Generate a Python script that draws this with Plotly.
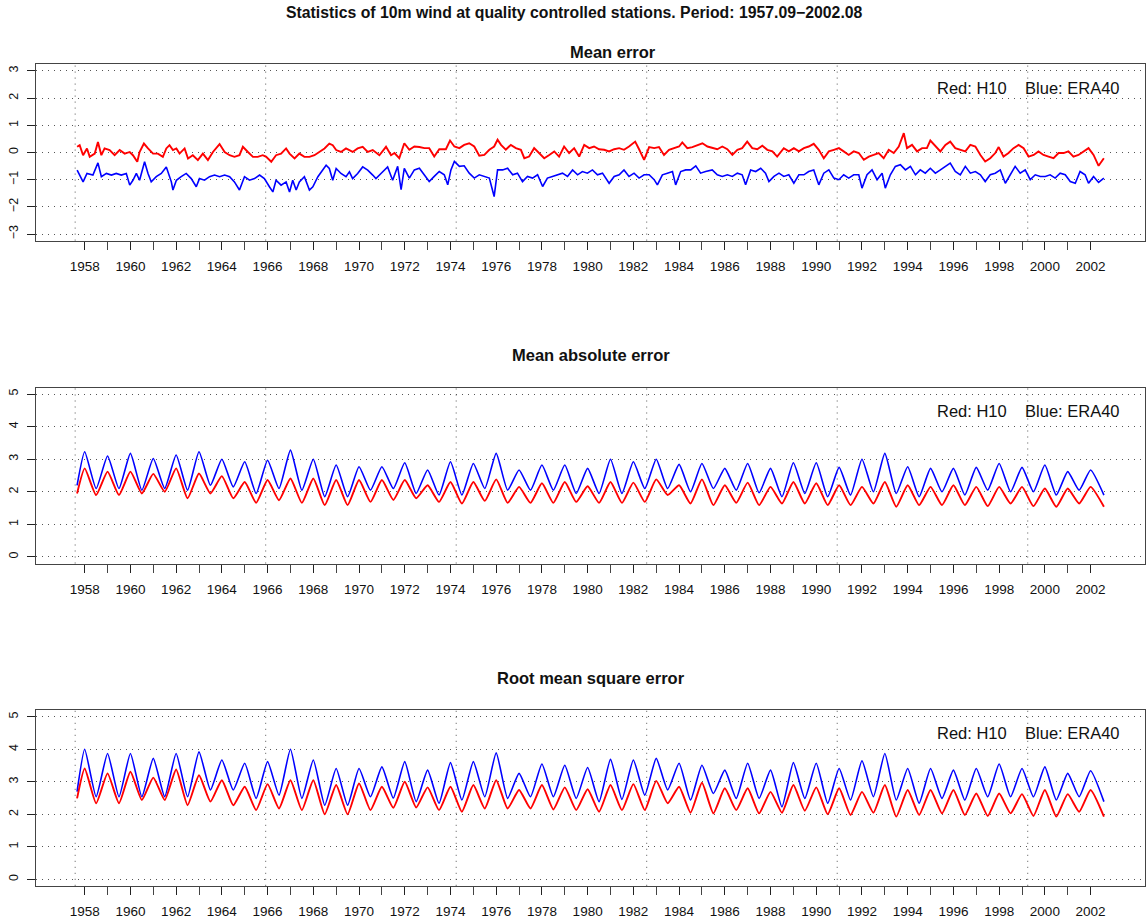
import plotly.graph_objects as go

# ---------------- DATA ----------------
start_t = 1957 + 8 / 12   # 1957.09 (September)
end_t = 2002 + 7 / 12     # 2002.08 (August)
years = list(range(1958, 2003))
label_years = list(range(1958, 2003, 2))
minor_years = list(range(1959, 2003, 2))

# Mean error, decimal year / value
me_h10_t = [1957.67, 1957.78, 1957.93, 1958.10, 1958.22, 1958.44, 1958.58, 1958.73, 1958.87, 1959.09,
            1959.31, 1959.53, 1959.75, 1959.97, 1960.11, 1960.30, 1960.40, 1960.59, 1960.77, 1960.99,
            1961.20, 1961.42, 1961.57, 1961.71, 1961.86, 1962.01, 1962.15, 1962.37, 1962.52, 1962.73,
            1962.95, 1963.17, 1963.39, 1963.61, 1963.90, 1964.12, 1964.34, 1964.55, 1964.77, 1964.92,
            1965.14, 1965.36, 1965.57, 1965.79, 1965.94, 1966.16, 1966.37, 1966.59, 1966.81, 1966.96,
            1967.18, 1967.39, 1967.61, 1967.83, 1968.05, 1968.27, 1968.49, 1968.70, 1968.85, 1969.00,
            1969.21, 1969.43, 1969.72, 1969.94, 1970.16, 1970.38, 1970.60, 1970.89, 1971.18, 1971.40,
            1971.55, 1971.76, 1971.98, 1972.20, 1972.42, 1972.64, 1972.86, 1973.07, 1973.29, 1973.51,
            1973.80, 1973.98, 1974.17, 1974.39, 1974.60, 1974.82, 1975.04, 1975.26, 1975.48, 1975.70,
            1975.91, 1976.06, 1976.21, 1976.42, 1976.64, 1976.86, 1977.08, 1977.23, 1977.44, 1977.66,
            1977.88, 1978.10, 1978.32, 1978.54, 1978.75, 1978.97, 1979.19, 1979.41, 1979.63, 1979.85,
            1980.07, 1980.28, 1980.50, 1980.72, 1980.94, 1981.16, 1981.38, 1981.59, 1981.81, 1982.08,
            1982.25, 1982.47, 1982.69, 1982.91, 1983.12, 1983.34, 1983.56, 1983.78, 1984.00, 1984.14,
            1984.36, 1984.58, 1984.80, 1985.02, 1985.24, 1985.45, 1985.67, 1985.89, 1986.11, 1986.33,
            1986.55, 1986.76, 1986.98, 1987.20, 1987.42, 1987.64, 1987.86, 1988.08, 1988.29, 1988.58,
            1988.80, 1989.02, 1989.24, 1989.46, 1989.67, 1989.89, 1990.11, 1990.33, 1990.55, 1990.77,
            1990.99, 1991.20, 1991.42, 1991.64, 1991.86, 1992.08, 1992.30, 1992.51, 1992.73, 1992.95,
            1993.17, 1993.39, 1993.61, 1993.83, 1993.97, 1994.19, 1994.41, 1994.63, 1994.84, 1994.99,
            1995.21, 1995.43, 1995.65, 1995.86, 1996.08, 1996.30, 1996.52, 1996.74, 1996.96, 1997.18,
            1997.39, 1997.61, 1997.83, 1997.98, 1998.19, 1998.41, 1998.63, 1998.85, 1999.07, 1999.29,
            1999.51, 1999.72, 1999.94, 2000.16, 2000.38, 2000.60, 2000.82, 2001.03, 2001.25, 2001.47,
            2001.69, 2001.91, 2002.13, 2002.35, 2002.58]
me_h10_v = [0.21, 0.27, -0.10, 0.15, -0.16, -0.04, 0.39, -0.10, 0.15, 0.09,
            -0.10, 0.09, -0.04, 0.02, -0.10, -0.34, 0.02, 0.33, 0.15, -0.04,
            -0.04, -0.16, 0.15, 0.27, 0.09, 0.15, -0.04, 0.15, -0.22, -0.10,
            -0.28, -0.04, -0.28, 0.02, 0.31, 0.02, -0.10, -0.16, -0.10, 0.21,
            0.02, -0.16, -0.16, -0.10, -0.16, -0.34, -0.10, -0.04, 0.15, -0.04,
            -0.22, -0.04, -0.16, -0.16, -0.10, 0.02, 0.15, 0.33, 0.27, 0.09,
            0.02, 0.15, 0.02, 0.15, 0.21, 0.02, 0.09, -0.10, 0.21, -0.10,
            -0.02, -0.21, 0.34, 0.10, 0.22, 0.20, 0.16, 0.16, -0.15, 0.12,
            0.12, 0.44, 0.22, 0.16, 0.28, 0.34, 0.22, -0.12, -0.09, 0.10,
            0.22, 0.47, 0.28, 0.10, 0.28, 0.16, 0.10, -0.21, -0.15, 0.16,
            -0.02, -0.21, -0.09, 0.04, -0.15, 0.22, -0.02, 0.16, -0.15, 0.28,
            0.16, 0.22, 0.12, 0.10, 0.04, 0.12, 0.16, 0.10, 0.22, 0.40,
            0.12, -0.27, 0.20, 0.16, 0.20, -0.09, 0.10, 0.16, 0.22, 0.37,
            0.16, 0.20, 0.28, 0.34, 0.22, 0.16, 0.12, 0.22, 0.12, -0.09,
            0.10, 0.16, 0.40, 0.16, 0.12, 0.25, 0.10, 0.04, -0.15, 0.16,
            0.04, 0.16, 0.04, 0.16, 0.22, 0.32, 0.10, -0.21, 0.04, 0.10,
            0.16, 0.04, -0.09, 0.04, -0.02, -0.27, -0.15, -0.09, -0.02, -0.21,
            0.10, -0.02, 0.22, 0.71, 0.16, 0.28, 0.04, 0.16, 0.16, 0.44,
            0.22, 0.04, 0.28, 0.40, 0.16, 0.10, 0.04, 0.28, 0.22, -0.09,
            -0.33, -0.21, -0.02, 0.20, -0.15, -0.02, 0.16, 0.28, 0.16, -0.15,
            -0.09, 0.04, -0.09, -0.15, -0.21, -0.02, -0.02, 0.04, -0.15, -0.09,
            0.04, 0.16, -0.09, -0.49, -0.21]

me_era40_t = [1957.67, 1957.93, 1958.10, 1958.36, 1958.58, 1958.73, 1958.95, 1959.17, 1959.38, 1959.60,
              1959.82, 1959.97, 1960.11, 1960.26, 1960.40, 1960.62, 1960.77, 1960.91, 1961.13, 1961.35,
              1961.57, 1961.79, 1961.86, 1962.01, 1962.22, 1962.44, 1962.66, 1962.88, 1963.02, 1963.24,
              1963.46, 1963.68, 1963.90, 1964.12, 1964.34, 1964.55, 1964.77, 1964.99, 1965.21, 1965.43,
              1965.65, 1965.86, 1966.08, 1966.23, 1966.37, 1966.59, 1966.81, 1966.96, 1967.10, 1967.25,
              1967.39, 1967.61, 1967.83, 1967.98, 1968.20, 1968.34, 1968.56, 1968.70, 1968.85, 1969.00,
              1969.21, 1969.43, 1969.58, 1969.72, 1969.94, 1970.16, 1970.38, 1970.60, 1970.74, 1970.96,
              1971.25, 1971.47, 1971.69, 1971.84, 1971.98, 1972.20, 1972.42, 1972.64, 1972.86, 1973.07,
              1973.29, 1973.51, 1973.73, 1973.88, 1974.02, 1974.17, 1974.39, 1974.60, 1974.82, 1975.04,
              1975.26, 1975.48, 1975.70, 1975.91, 1976.06, 1976.28, 1976.50, 1976.72, 1976.93, 1977.15,
              1977.37, 1977.59, 1977.81, 1978.03, 1978.24, 1978.46, 1978.68, 1978.90, 1979.12, 1979.34,
              1979.56, 1979.77, 1979.99, 1980.21, 1980.43, 1980.65, 1980.94, 1981.16, 1981.38, 1981.59,
              1981.81, 1982.03, 1982.25, 1982.47, 1982.69, 1982.91, 1983.05, 1983.27, 1983.49, 1983.71,
              1983.85, 1984.07, 1984.29, 1984.51, 1984.73, 1984.94, 1985.16, 1985.45, 1985.67, 1985.89,
              1986.11, 1986.33, 1986.55, 1986.76, 1986.91, 1987.13, 1987.35, 1987.57, 1987.78, 1987.93,
              1988.15, 1988.37, 1988.58, 1988.80, 1989.02, 1989.24, 1989.46, 1989.67, 1989.89, 1990.11,
              1990.33, 1990.55, 1990.77, 1990.99, 1991.20, 1991.42, 1991.64, 1991.86, 1992.00, 1992.22,
              1992.44, 1992.66, 1992.88, 1993.02, 1993.24, 1993.46, 1993.68, 1993.90, 1994.12, 1994.34,
              1994.55, 1994.77, 1994.99, 1995.21, 1995.43, 1995.65, 1995.86, 1996.08, 1996.30, 1996.52,
              1996.74, 1996.96, 1997.18, 1997.39, 1997.61, 1997.83, 1998.05, 1998.27, 1998.49, 1998.70,
              1998.92, 1999.14, 1999.36, 1999.58, 1999.80, 2000.02, 2000.23, 2000.45, 2000.67, 2000.89,
              2001.11, 2001.33, 2001.54, 2001.76, 2001.91, 2002.13, 2002.35, 2002.58]
me_era40_v = [-0.65, -1.08, -0.77, -0.83, -0.38, -0.89, -0.77, -0.83, -0.77, -0.83,
              -0.77, -1.20, -1.02, -0.77, -1.02, -0.34, -0.77, -1.08, -0.89, -0.77,
              -0.53, -1.08, -1.38, -1.02, -0.89, -0.77, -0.96, -1.26, -0.96, -1.02,
              -0.89, -0.83, -0.89, -0.83, -0.89, -1.08, -1.38, -0.89, -1.02, -0.96,
              -0.83, -0.96, -1.26, -1.45, -1.02, -1.20, -1.08, -1.45, -1.02, -1.38,
              -1.08, -0.89, -1.38, -1.26, -0.89, -0.71, -0.47, -0.59, -1.02, -0.59,
              -0.77, -0.89, -0.71, -0.96, -0.77, -0.53, -0.65, -0.83, -0.96, -0.77,
              -0.53, -1.02, -0.51, -1.37, -0.58, -0.94, -0.64, -0.58, -0.82, -1.07,
              -0.88, -0.70, -0.82, -1.19, -0.64, -0.33, -0.51, -0.49, -0.76, -0.94,
              -0.82, -0.88, -0.94, -1.62, -0.64, -0.64, -0.58, -0.82, -0.76, -1.07,
              -0.88, -0.94, -0.82, -1.25, -0.94, -0.88, -0.82, -0.76, -0.88, -0.64,
              -0.82, -0.70, -0.76, -0.64, -0.82, -0.76, -1.13, -0.88, -0.82, -0.64,
              -0.88, -0.76, -0.94, -0.82, -0.82, -1.00, -1.19, -0.82, -0.76, -0.70,
              -1.19, -0.70, -0.64, -0.64, -0.49, -0.76, -0.70, -0.64, -0.82, -0.88,
              -0.82, -0.88, -0.76, -0.82, -1.19, -0.64, -0.70, -0.58, -0.76, -1.07,
              -0.88, -0.76, -0.88, -0.82, -1.13, -0.82, -0.82, -0.70, -0.64, -1.19,
              -0.76, -0.64, -0.94, -1.00, -0.82, -0.94, -0.82, -0.82, -1.31, -0.82,
              -0.64, -1.00, -0.76, -1.31, -0.82, -0.51, -0.45, -0.64, -0.51, -0.82,
              -0.64, -0.76, -0.58, -0.76, -0.64, -0.51, -0.39, -0.70, -0.82, -0.51,
              -0.76, -0.70, -0.82, -1.07, -0.82, -0.76, -0.64, -1.13, -0.82, -0.51,
              -0.76, -0.64, -1.00, -0.82, -0.88, -0.88, -0.82, -0.94, -0.76, -0.82,
              -1.07, -1.13, -0.70, -0.82, -1.13, -0.88, -1.10, -0.94]

# Mean absolute error: winter peak (Jan) 1958..2002, summer trough (Jul) 1958..2001
mae_h10_start, mae_h10_end = 1.95, 1.54
mae_h10_peak = [2.72, 2.62, 2.62, 2.55, 2.72, 2.56, 2.48, 2.30, 2.36, 2.41,
                2.41, 2.36, 2.36, 2.36, 2.36, 2.20, 2.30, 2.30, 2.38, 2.15,
                2.26, 2.30, 2.17, 2.30, 2.28, 2.38, 2.20, 2.38, 2.20, 2.28,
                2.15, 2.30, 2.26, 2.20, 2.15, 2.30, 2.20, 2.15, 2.20, 2.15,
                2.15, 2.15, 2.10, 2.10, 2.15]
mae_h10_trough = [1.90, 1.90, 1.95, 2.00, 1.80, 1.95, 1.80, 1.66, 1.74, 1.66,
                  1.59, 1.59, 1.69, 1.75, 1.80, 1.69, 1.64, 1.72, 1.66, 1.66,
                  1.66, 1.69, 1.66, 1.66, 1.69, 1.90, 1.64, 1.59, 1.66, 1.59,
                  1.64, 1.64, 1.59, 1.59, 1.64, 1.54, 1.59, 1.59, 1.59, 1.56,
                  1.64, 1.56, 1.54, 1.64]
mae_era40_start, mae_era40_end = 2.20, 1.90
mae_era40_peak = [3.23, 3.10, 3.18, 3.02, 3.13, 3.23, 3.00, 2.92, 2.97, 3.28,
                  3.00, 2.82, 2.77, 2.77, 2.89, 2.67, 2.92, 2.87, 3.18, 2.67,
                  2.82, 2.82, 2.72, 3.00, 2.92, 3.00, 2.84, 2.87, 2.72, 2.87,
                  2.72, 2.89, 2.89, 2.75, 3.00, 3.18, 2.77, 2.72, 2.72, 2.75,
                  2.87, 2.75, 2.82, 2.62, 2.67]
mae_era40_trough = [2.10, 2.10, 2.05, 2.10, 2.05, 2.20, 2.15, 1.95, 2.10, 2.05,
                    1.85, 1.85, 2.05, 2.10, 1.95, 1.90, 1.90, 2.10, 2.05, 2.05,
                    2.05, 1.95, 1.95, 1.95, 2.10, 2.10, 2.00, 2.10, 2.05, 1.97,
                    1.85, 1.95, 1.85, 1.90, 2.00, 1.95, 1.85, 2.00, 1.90, 2.05,
                    2.00, 2.00, 1.90, 2.05]

# Root mean square error
rmse_h10_start, rmse_h10_end = 2.49, 1.93
rmse_h10_peak = [3.41, 3.26, 3.31, 3.13, 3.38, 3.20, 3.05, 2.85, 2.93, 3.05,
                 3.05, 2.90, 2.95, 2.85, 3.00, 2.83, 2.85, 2.90, 3.05, 2.75,
                 2.90, 2.83, 2.77, 2.90, 2.93, 3.03, 2.85, 2.97, 2.80, 2.80,
                 2.69, 2.90, 2.83, 2.80, 2.69, 2.90, 2.75, 2.75, 2.75, 2.64,
                 2.64, 2.62, 2.75, 2.62, 2.75]
rmse_h10_trough = [2.34, 2.34, 2.44, 2.44, 2.28, 2.39, 2.28, 2.13, 2.18, 2.13,
                   2.00, 2.00, 2.13, 2.20, 2.21, 2.13, 2.08, 2.18, 2.18, 2.18,
                   2.15, 2.13, 2.08, 2.13, 2.13, 2.34, 2.05, 2.03, 2.13, 2.03,
                   2.05, 2.11, 2.00, 1.98, 2.05, 1.93, 1.98, 2.03, 1.98, 1.95,
                   2.03, 1.95, 1.93, 2.08]
rmse_era40_start, rmse_era40_end = 2.70, 2.39
rmse_era40_peak = [4.00, 3.87, 3.87, 3.72, 3.87, 3.92, 3.67, 3.57, 3.62, 4.00,
                   3.67, 3.41, 3.41, 3.46, 3.62, 3.36, 3.59, 3.62, 3.89, 3.26,
                   3.55, 3.51, 3.44, 3.69, 3.67, 3.72, 3.57, 3.51, 3.36, 3.57,
                   3.36, 3.59, 3.57, 3.41, 3.65, 3.87, 3.41, 3.41, 3.36, 3.41,
                   3.55, 3.41, 3.46, 3.26, 3.34]
rmse_era40_trough = [2.54, 2.54, 2.54, 2.54, 2.54, 2.75, 2.75, 2.49, 2.59, 2.49,
                     2.28, 2.28, 2.54, 2.50, 2.39, 2.34, 2.44, 2.54, 2.49, 2.54,
                     2.54, 2.49, 2.39, 2.46, 2.59, 2.75, 2.44, 2.64, 2.49, 2.49,
                     2.23, 2.49, 2.34, 2.44, 2.54, 2.44, 2.34, 2.49, 2.44, 2.54,
                     2.54, 2.54, 2.44, 2.54]

main_title = "Statistics of 10m wind at quality controlled stations. Period: 1957.09\u22122002.08"
panel_titles = ["Mean error", "Mean absolute error", "Root mean square error"]
legend_text = "Red: H10    Blue: ERA40"
RED, BLUE = "#ff0000", "#0000ff"


def seasonal(start_v, peaks, troughs, end_v):
    t, v = [start_t], [start_v]
    for i, y in enumerate(years):
        t.append(y)
        v.append(peaks[i])
        if i < len(troughs):
            t.append(y + 0.5)
            v.append(troughs[i])
    t.append(end_t)
    v.append(end_v)
    return t, v


assert len(me_h10_t) == len(me_h10_v), (len(me_h10_t), len(me_h10_v))
assert len(me_era40_t) == len(me_era40_v), (len(me_era40_t), len(me_era40_v))

# ---------------- FIGURE ----------------
W, H = 1147, 921
left_px, right_px = 36, 1145
panels_px = [(64.4, 240.6), (387.5, 563.5), (710.3, 885.8)]
yranges = [[-3.24, 3.24], [-0.2, 5.2], [-0.2, 5.2]]
ytickvals = [list(range(-3, 4)), list(range(0, 6)), list(range(0, 6))]
title_y_px = [52, 355, 678]
title_x_px = [613, 591, 591]
legend_y_px = [88, 411, 733]

span = end_t - start_t
xrange_ = [start_t - 0.04 * span, end_t + 0.04 * span]
vgrid = [start_t - 1 / 12 + k * 100 / 12 for k in range(6)]

series = [
    [(me_h10_t, me_h10_v), (me_era40_t, me_era40_v)],
    [seasonal(mae_h10_start, mae_h10_peak, mae_h10_trough, mae_h10_end),
     seasonal(mae_era40_start, mae_era40_peak, mae_era40_trough, mae_era40_end)],
    [seasonal(rmse_h10_start, rmse_h10_peak, rmse_h10_trough, rmse_h10_end),
     seasonal(rmse_era40_start, rmse_era40_peak, rmse_era40_trough, rmse_era40_end)],
]

fig = go.Figure()
FONT = "Liberation Sans, Arial, Helvetica, sans-serif"
GRID = "#555555"
DOT = "1px,5px"
shapes, annotations = [], []

for p in range(3):
    sfx = "" if p == 0 else str(p + 1)
    (h10_t, h10_v), (era_t, era_v) = series[p]
    shape = "linear" if p == 0 else "spline"
    fig.add_trace(go.Scatter(x=era_t, y=era_v, mode="lines",
                             line=dict(color=BLUE, width=1.6, shape=shape, smoothing=0.5),
                             xaxis="x" + sfx, yaxis="y" + sfx, hoverinfo="x+y"))
    fig.add_trace(go.Scatter(x=h10_t, y=h10_v, mode="lines",
                             line=dict(color=RED, width=1.9, shape=shape, smoothing=0.5),
                             xaxis="x" + sfx, yaxis="y" + sfx, hoverinfo="x+y"))
    top, bot = panels_px[p]
    ydom = [1 - bot / H, 1 - top / H]
    xdom = [left_px / W, right_px / W]
    fig.layout["xaxis" + sfx] = dict(
        domain=xdom, range=xrange_, anchor="y" + sfx,
        tickmode="array", tickvals=label_years, ticktext=[str(y) for y in label_years],
        ticks="outside", ticklen=8, tickwidth=1.3, tickcolor="#222",
        minor=dict(tickvals=minor_years, ticks="outside", ticklen=8, tickwidth=1, tickcolor="#444", showgrid=False),
        showgrid=False, zeroline=False, showline=True, mirror=True, linecolor="#444", linewidth=1.2,
        tickfont=dict(family=FONT, size=13.5, color="#111"), ticklabelstandoff=5,
    )
    fig.layout["yaxis" + sfx] = dict(
        domain=ydom, range=yranges[p], anchor="x" + sfx,
        tickmode="array", tickvals=ytickvals[p],
        ticks="outside", ticklen=8, tickwidth=1.2, tickcolor="#222", tickangle=-90,
        showgrid=True, gridcolor=GRID, griddash=DOT, gridwidth=1,
        zeroline=False, showline=True, mirror=True, linecolor="#444", linewidth=1.2,
        tickfont=dict(family=FONT, size=12.5, color="#111"), ticklabelstandoff=4,
    )
    for gx in vgrid:
        shapes.append(dict(type="line", xref="x" + sfx, yref="y" + sfx + " domain",
                           x0=gx, x1=gx, y0=0, y1=1, layer="below",
                           line=dict(color=GRID, width=1, dash=DOT)))
    annotations.append(dict(text="<b>" + panel_titles[p] + "</b>", xref="paper", yref="paper",
                            x=title_x_px[p] / W, y=1 - title_y_px[p] / H, xanchor="center", yanchor="middle",
                            showarrow=False, font=dict(family=FONT, size=16.5, color="#111")))
    annotations.append(dict(text=legend_text.replace(" ", "&nbsp;"), xref="paper", yref="paper",
                            x=1122 / W, y=1 - legend_y_px[p] / H, xanchor="right", yanchor="middle",
                            showarrow=False, font=dict(family=FONT, size=16.5, color="#111")))

annotations.append(dict(text="<b>" + main_title + "</b>", xref="paper", yref="paper",
                        x=574 / W, y=1 - 12 / H, xanchor="center", yanchor="middle",
                        showarrow=False, font=dict(family=FONT, size=15.8, color="#111")))

fig.update_layout(width=W, height=H, margin=dict(l=0, r=0, t=0, b=0),
                  paper_bgcolor="white", plot_bgcolor="white", showlegend=False,
                  shapes=shapes, annotations=annotations)

fig.write_html("out.html", config={"displayModeBar": False},
               post_script="document.body.style.margin='0';document.body.style.overflow='hidden';")
